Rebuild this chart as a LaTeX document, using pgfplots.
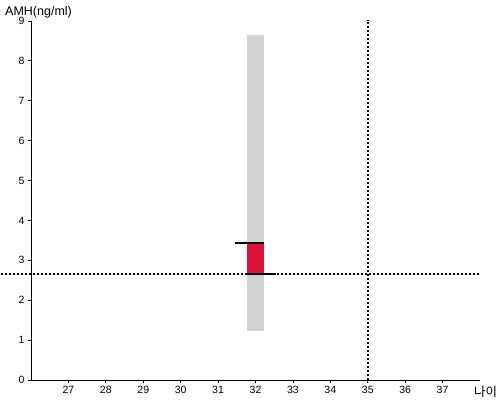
\documentclass[border=0pt]{standalone}
\usepackage{pgfplots}
\pgfplotsset{compat=1.18}
\usepackage{fontspec}
\setmainfont{Liberation Sans}
\newfontfamily\cjk{Noto Sans CJK KR}
\definecolor{barred}{RGB}{220,20,60}
\definecolor{bargray}{RGB}{211,211,211}
\begin{document}
\begin{tikzpicture}
\begin{axis}[
  scale only axis, width=449pt, height=359pt,
  xmin=26, xmax=38, ymin=0, ymax=9,
  axis lines=left, axis line style={-, line width=1pt},
  xtick={27,28,...,37}, ytick={0,1,...,9},
  tick style={black, line width=0.8pt}, tick align=outside,
  major tick length=3pt,
  tick label style={font=\fontsize{10.5}{12}\selectfont},
  /pgf/number format/assume math mode=true,
  clip=false,
]
\addplot[fill=bargray, draw=none] coordinates {(31.786,1.23)(32.214,1.23)(32.214,8.65)(31.786,8.65)} -- cycle;
\addplot[fill=barred, draw=none] coordinates {(31.786,2.66)(32.214,2.66)(32.214,3.43)(31.786,3.43)} -- cycle;
\addplot[black, line width=2pt] coordinates {(31.45,3.43)(32.214,3.43)};
\addplot[black, line width=2pt] coordinates {(31.786,2.66)(32.55,2.66)};
\addplot[black, line width=1.8pt, dash pattern=on 2pt off 2pt] coordinates {(25.2,2.66)(38,2.66)};
\addplot[black, line width=1.8pt, dash pattern=on 2pt off 2pt] coordinates {(35,0)(35,9.03)};
\node[anchor=south west, inner sep=0pt, font=\fontsize{12.5}{14}\selectfont] at (rel axis cs:0,1) [xshift=-26pt, yshift=3pt] {AMH(ng/ml)};
\node[anchor=base west, inner sep=0pt, font=\cjk\fontsize{12.5}{14}\selectfont] at (rel axis cs:1,0) [xshift=-6pt, yshift=-16pt] {나이};
\end{axis}
\path[use as bounding box] (-31pt,-20pt) rectangle (469pt,380pt);
\end{tikzpicture}
\end{document}
